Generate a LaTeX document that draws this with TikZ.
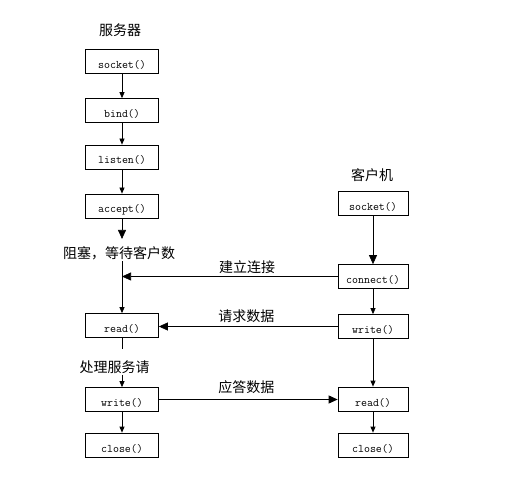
\documentclass[tikz,border=0pt]{standalone}
\usepackage{fontspec}
\newfontfamily\cjk{Noto Sans CJK SC}
\usetikzlibrary{arrows.meta,positioning}

\begin{document}
\begin{tikzpicture}[x=1pt,y=-1pt,line width=0.7pt,
  fn/.style={draw,minimum width=73pt,minimum height=24pt,inner sep=0pt,text height=14pt,text depth=0pt,font=\ttfamily\fontsize{11.6}{13}\selectfont},
  cfn/.style={fn,minimum width=70pt},
  lbl/.style={font=\cjk\fontsize{14}{16}\selectfont,inner sep=1pt},
  ar/.style={-{Triangle[length=6pt,width=5pt]}},
  bar/.style={-{Triangle[length=9pt,width=8pt]}}]
\useasboundingbox (0,0) rectangle (506,494);
% server side
\node[lbl] (stitle) at (120,30) {服务器};
\node[fn] (ssock) at (122,61.5) {socket()};
\node[fn] (sbind) at (122,110.5) {bind()};
\node[fn] (slisten) at (122,157) {listen()};
\node[fn] (saccept) at (122,206) {accept()};
\node[lbl] (wait) at (119,253) {阻塞，等待客户数};
\node[fn] (sread) at (122,325.5) {read()};
\node[lbl] (proc) at (114.5,367) {处理服务请};
\node[fn] (swrite) at (122,399.5) {write()};
\node[fn] (sclose) at (122,445) {close()};
% client side
\node[lbl] (ctitle) at (372,175) {客户机};
\node[cfn] (csock) at (373,203.5) {socket()};
\node[cfn] (cconn) at (373,276.5) {connect()};
\node[cfn] (cwrite) at (373,326.5) {write()};
\node[cfn] (cread) at (373,399) {read()};
\node[cfn] (cclose) at (373,445) {close()};
% server flow
\draw[ar] (ssock) -- (sbind);
\draw[ar] (sbind) -- (slisten);
\draw[ar] (slisten) -- (saccept);
\draw[bar,shorten >=6pt] (saccept.south) -- (saccept.south |- wait.north);
\draw[ar] (wait.south -| sread.north) -- (sread.north);
\draw[shorten >=10pt] (sread.south) -- (sread.south |- proc.north);
\draw[ar] (proc.south -| swrite.north) -- (swrite.north);
\draw[ar] (swrite) -- (sclose);
% client flow
\draw[bar] (csock) -- (cconn);
\draw[ar] (cconn) -- (cwrite);
\draw[ar] (cwrite) -- (cread);
\draw[ar] (cread) -- (cclose);
% messages
\draw[bar] (cconn.west) -- node[lbl,pos=0.42,above=2pt]{建立连接} (cconn.west -| sread.north);
\draw[bar] (cwrite.west) -- node[lbl,pos=0.51,above=2pt]{请求数据} (cwrite.west -| sread.east);
\draw[bar] (swrite.east) -- node[lbl,pos=0.49,above=4pt]{应答数据} (swrite.east -| cread.west);
\end{tikzpicture}
\end{document}
